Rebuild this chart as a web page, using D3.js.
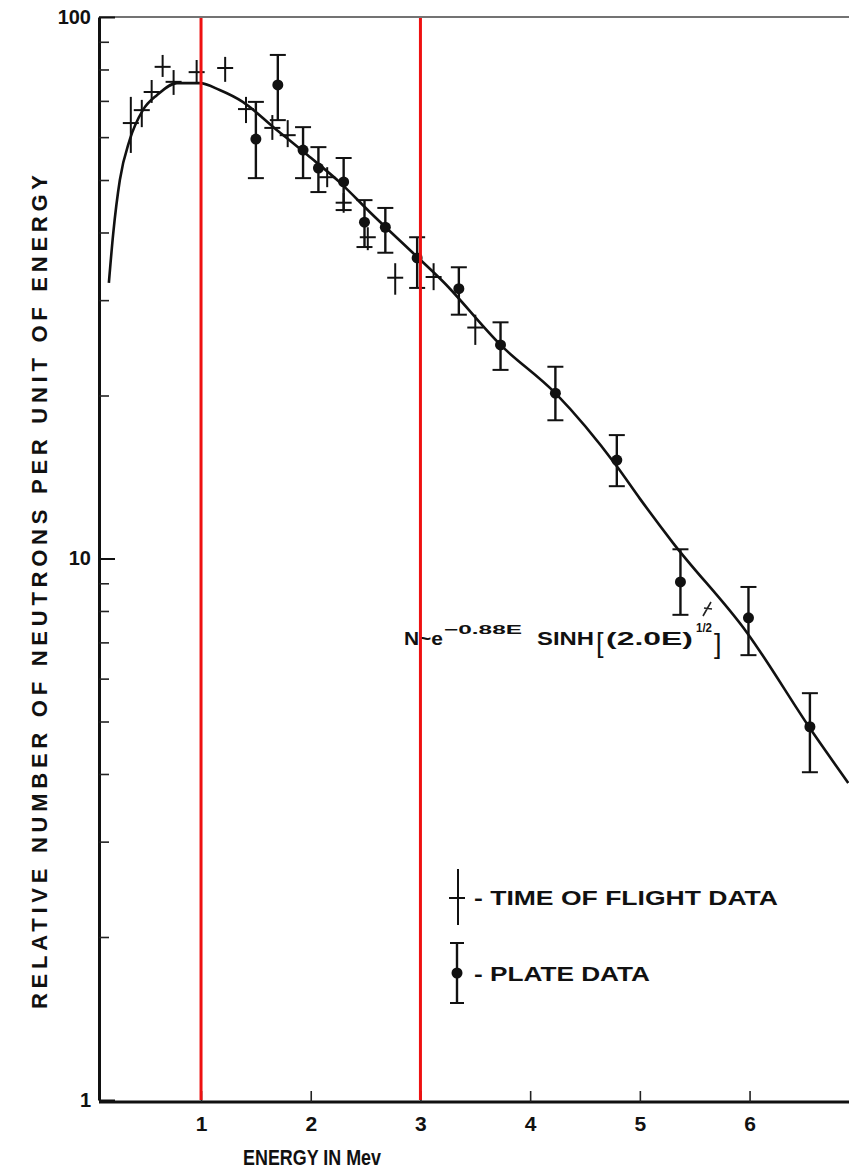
<!DOCTYPE html>
<html lang="en">
<head>
<meta charset="utf-8">
<title>Neutron energy spectrum</title>
<script src="https://cdn.jsdelivr.net/npm/d3@7"></script>
<style>
  body { margin: 0; background: #fff; }
  svg text { font-family: "Liberation Sans", "DejaVu Sans", sans-serif; font-weight: bold; fill: #111; }
</style>
</head>
<body>
<script>
// fitted curve (E in MeV, relative N)
var curveE = [0.16, 0.20, 0.26, 0.35, 0.47, 0.60, 0.78, 0.99, 1.17, 1.38, 1.66, 1.97, 2.27, 2.54, 2.93, 3.21, 3.73, 4.23, 4.79, 5.00, 5.30, 5.98, 6.58, 6.90];
var curveN = [32.3, 39.9, 50.0, 59.3, 67.3, 71.8, 75.5, 75.5, 73.3, 69.7, 62.6, 55.6, 49.4, 43.6, 36.7, 32.4, 24.8, 20.2, 14.8, 12.9, 10.7, 7.28, 4.76, 3.85];

// time of flight data (crosses)
var tofE  = [0.36, 0.46, 0.55, 0.65, 0.75, 0.96, 1.22, 1.41, 1.65, 1.79, 2.15, 2.30, 2.52, 2.77, 3.12, 3.50];
var tofN  = [63.7, 67.3, 72.7, 80.9, 75.9, 79.1, 80.5, 67.6, 62.4, 60.5, 50.6, 45.4, 39.2, 33.0, 33.1, 26.7];
var tofHi = [71.2, 70.3, 76.5, 85.1, 79.8, 83.3, 84.4, 71.2, 65.9, 64.5, 52.8, 47.3, 40.9, 35.1, 35.1, 28.2];
var tofLo = [56.1, 62.6, 69.4, 77.5, 71.8, 75.5, 75.9, 63.7, 59.3, 57.5, 48.5, 43.5, 37.1, 30.7, 31.3, 24.8];

// plate data (dots with capped error bars)
var plateE  = [1.50, 1.70, 1.93, 2.07, 2.30, 2.49, 2.68, 2.97, 3.35, 3.73, 4.23, 4.79, 5.37, 5.99, 6.55];
var plateN  = [59.5, 74.9, 56.8, 52.6, 49.6, 41.8, 40.9, 35.9, 31.5, 24.8, 20.2, 15.2, 9.05, 7.77, 4.89];
var plateHi = [69.7, 85.1, 62.6, 57.5, 54.9, 45.9, 44.4, 39.2, 34.5, 27.3, 22.6, 16.9, 10.4, 8.86, 5.64];
var plateLo = [50.4, 64.5, 50.4, 47.5, 44.0, 37.6, 36.7, 31.6, 28.2, 22.3, 18.0, 13.6, 7.87, 6.63, 4.03];

var xTicks = [1, 2, 3, 4, 5, 6];
var yLabels = [1, 10, 100];
var yMinor = [2, 3, 4, 5, 6, 7, 8, 9, 20, 30, 40, 50, 60, 70, 80, 90];
var markE = [1, 3];   // red marker lines

var width = 849, height = 1169;

var svg = d3.select("body").append("svg")
    .attr("width", width)
    .attr("height", height);

var x = d3.scaleLinear().domain([0.07, 6.9]).range([99, 848.3]);
var y = d3.scaleLog().domain([1, 100]).range([1100, 17]);

// frame: top line
svg.append("line")
    .attr("x1", x.range()[0]).attr("x2", width)
    .attr("y1", y(100)).attr("y2", y(100))
    .attr("stroke", "#444").attr("stroke-width", 1.6);

// left axis, ticks pointing into the plot
var yAxis = svg.append("g")
    .attr("transform", "translate(" + x.range()[0] + ",0)")
    .call(d3.axisLeft(y).tickValues(yLabels).tickSizeInner(-16).tickSizeOuter(0)
        .tickPadding(8).tickFormat(d3.format("d")));
yAxis.select(".domain").attr("stroke", "#111").attr("stroke-width", 3);
yAxis.selectAll("line").attr("stroke", "#111").attr("stroke-width", 2);
yAxis.selectAll("text").attr("font-size", 20).attr("fill", "#111")
    .attr("font-family", "Liberation Sans, sans-serif");

var yAxisMinor = svg.append("g")
    .attr("transform", "translate(" + x.range()[0] + ",0)")
    .call(d3.axisLeft(y).tickValues(yMinor).tickSizeInner(-10).tickSizeOuter(0).tickFormat(""));
yAxisMinor.select(".domain").remove();
yAxisMinor.selectAll("line").attr("stroke", "#222").attr("stroke-width", 1.6);

// bottom axis, ticks pointing up
var xAxis = svg.append("g")
    .attr("transform", "translate(0," + 1102 + ")")
    .call(d3.axisBottom(x).tickValues(xTicks).tickSizeInner(-11).tickSizeOuter(0)
        .tickPadding(14).tickFormat(d3.format("d")));
xAxis.select(".domain").attr("stroke", "#111").attr("stroke-width", 3)
    .attr("d", "M" + x.range()[0] + ",0H" + width);
xAxis.selectAll("line").attr("stroke", "#222").attr("stroke-width", 1.6);
xAxis.selectAll("text").attr("font-size", 21).attr("fill", "#111")
    .attr("font-family", "Liberation Sans, sans-serif");

// axis titles
svg.append("text")
    .attr("x", 312).attr("y", 1165)
    .attr("text-anchor", "middle")
    .attr("font-size", 22)
    .attr("textLength", 138).attr("lengthAdjust", "spacingAndGlyphs")
    .text("ENERGY IN Mev");

svg.append("text")
    .attr("transform", "translate(47,592) rotate(-90)")
    .attr("text-anchor", "middle")
    .attr("font-size", 22)
    .attr("textLength", 834).attr("lengthAdjust", "spacing")
    .text("RELATIVE NUMBER OF NEUTRONS PER UNIT OF ENERGY");

// fitted curve
var line = d3.line()
    .x(function(d, i) { return x(curveE[i]); })
    .y(function(d, i) { return y(curveN[i]); })
    .curve(d3.curveMonotoneX);

svg.append("path")
    .datum(curveE)
    .attr("d", line)
    .attr("fill", "none")
    .attr("stroke", "#111")
    .attr("stroke-width", 2.6);

// time of flight crosses
var tof = svg.append("g").selectAll("g")
    .data(tofE)
    .enter().append("g");
tof.append("line")
    .attr("x1", function(d) { return x(d); }).attr("x2", function(d) { return x(d); })
    .attr("y1", function(d, i) { return y(tofHi[i]); })
    .attr("y2", function(d, i) { return y(tofLo[i]); })
    .attr("stroke", "#111").attr("stroke-width", 2);
tof.append("line")
    .attr("x1", function(d) { return x(d) - 8; }).attr("x2", function(d) { return x(d) + 8; })
    .attr("y1", function(d, i) { return y(tofN[i]); })
    .attr("y2", function(d, i) { return y(tofN[i]); })
    .attr("stroke", "#111").attr("stroke-width", 2);

// plate data
var plate = svg.append("g").selectAll("g")
    .data(plateE)
    .enter().append("g");
plate.append("line")
    .attr("x1", function(d) { return x(d); }).attr("x2", function(d) { return x(d); })
    .attr("y1", function(d, i) { return y(plateHi[i]); })
    .attr("y2", function(d, i) { return y(plateLo[i]); })
    .attr("stroke", "#111").attr("stroke-width", 2.4);
[plateHi, plateLo].forEach(function(arr) {
    plate.append("line")
        .attr("x1", function(d) { return x(d) - 8; }).attr("x2", function(d) { return x(d) + 8; })
        .attr("y1", function(d, i) { return y(arr[i]); })
        .attr("y2", function(d, i) { return y(arr[i]); })
        .attr("stroke", "#111").attr("stroke-width", 2);
});
plate.append("circle")
    .attr("cx", function(d) { return x(d); })
    .attr("cy", function(d, i) { return y(plateN[i]); })
    .attr("r", 5.5)
    .attr("fill", "#111");

// formula  N ~ e^(-0.88E) SINH[(2.0E)^(1/2)]
var fg = svg.append("g");
function ftext(x0, y0, size, len, s, weight) {
    var t = fg.append("text").attr("x", x0).attr("y", y0).attr("font-size", size)
        .style("font-weight", weight || "bold").text(s);
    if (len) t.attr("textLength", len).attr("lengthAdjust", "spacingAndGlyphs");
    return t;
}
ftext(404, 645, 18, 39, "N~e");
ftext(444, 634, 13, 78, "\u22120.88E");
ftext(537, 645, 18, 57, "SINH");
ftext(596, 652, 27, 0, "[", "normal");
ftext(606, 645, 18, 87, "(2.0E)");
ftext(696, 632, 12, 16, "1/2");
ftext(714, 653, 27, 0, "]", "normal");

// little pointer mark from formula to curve
svg.append("path")
    .attr("d", "M703,616 L711,602 M704,608 L712,609")
    .attr("stroke", "#222").attr("stroke-width", 1.6).attr("fill", "none");

// legend
var lg = svg.append("g");
lg.append("line").attr("x1", 458).attr("x2", 458).attr("y1", 869).attr("y2", 925)
    .attr("stroke", "#111").attr("stroke-width", 2);
lg.append("line").attr("x1", 449).attr("x2", 465).attr("y1", 898).attr("y2", 898)
    .attr("stroke", "#111").attr("stroke-width", 2);
lg.append("text").attr("x", 474).attr("y", 905).attr("font-size", 20)
    .attr("textLength", 304).attr("lengthAdjust", "spacingAndGlyphs")
    .text("- TIME OF FLIGHT DATA");

lg.append("line").attr("x1", 457).attr("x2", 457).attr("y1", 943).attr("y2", 1003)
    .attr("stroke", "#111").attr("stroke-width", 2.4);
lg.append("line").attr("x1", 450).attr("x2", 464).attr("y1", 943).attr("y2", 943)
    .attr("stroke", "#111").attr("stroke-width", 2);
lg.append("line").attr("x1", 450).attr("x2", 464).attr("y1", 1003).attr("y2", 1003)
    .attr("stroke", "#111").attr("stroke-width", 2);
lg.append("circle").attr("cx", 457).attr("cy", 973).attr("r", 5.5).attr("fill", "#111");
lg.append("text").attr("x", 474).attr("y", 981).attr("font-size", 20)
    .attr("textLength", 176).attr("lengthAdjust", "spacingAndGlyphs")
    .text("- PLATE DATA");

// red marker lines at 1 and 3 MeV
svg.append("g").selectAll("line")
    .data(markE)
    .enter().append("line")
    .attr("x1", function(d) { return x(d); }).attr("x2", function(d) { return x(d); })
    .attr("y1", y(100) + 1).attr("y2", 1100)
    .attr("stroke", "#ee1111").attr("stroke-width", 3);
</script>
</body>
</html>
